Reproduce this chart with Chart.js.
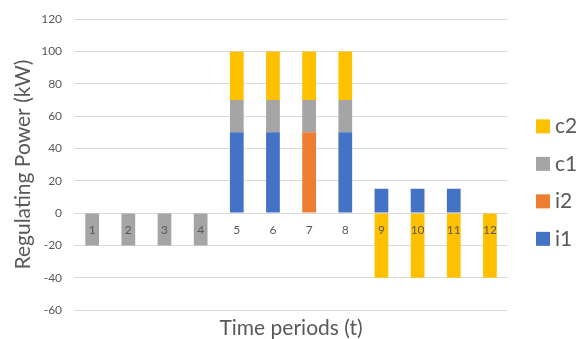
<!DOCTYPE html>
<html>
<head>
<meta charset="utf-8">
<script src="https://cdn.jsdelivr.net/npm/chart.js@4.4.1/dist/chart.umd.min.js"></script>
<style>
  html, body { margin: 0; padding: 0; background: #fff; }
  #wrap { width: 579px; height: 339px; position: relative; }
</style>
</head>
<body>
<div id="wrap"><canvas id="regChart"></canvas></div>
<script>
// data
const periods = ['1', '2', '3', '4', '5', '6', '7', '8', '9', '10', '11', '12'];
const i1 = [0, 0, 0, 0, 50, 50, 0, 50, 15, 15, 15, 0];
const i2 = [0, 0, 0, 0, 0, 0, 50, 0, 0, 0, 0, 0];
const c1 = [-20, -20, -20, -20, 20, 20, 20, 20, 0, 0, 0, 0];
const c2 = [0, 0, 0, 0, 30, 30, 30, 30, -40, -40, -40, -40];

const yMin = -60, yMax = 120, yStep = 20;

const textGrey = '#595959';
const font = "Lato, 'Open Sans', sans-serif";

function bar(label, data, color) {
    return {
        label: label,
        data: data,
        backgroundColor: color,
        barPercentage: 0.38,
        categoryPercentage: 1.0,
        borderWidth: 0
    };
}

// legend on the right, drawn next to the plot (c2 on top, like Excel)
const sideLegend = {
    id: 'sideLegend',
    afterDraw(chart) {
        const ctx = chart.ctx;
        const area = chart.chartArea;
        const sets = chart.data.datasets.slice().reverse();
        const x = area.right + 28;
        const step = 37.5;
        const mid = (area.top + area.bottom) / 2 + 18;
        const y0 = mid - step * (sets.length - 1) / 2;
        ctx.save();
        ctx.font = '21px ' + font;
        ctx.textBaseline = 'middle';
        sets.forEach((ds, k) => {
            const y = y0 + k * step;
            ctx.fillStyle = ds.backgroundColor;
            ctx.fillRect(x, y - 7, 14, 14);
            ctx.fillStyle = textGrey;
            ctx.fillText(ds.label, x + 19, y);
        });
        ctx.restore();
    }
};

new Chart(document.getElementById('regChart'), {
    type: 'bar',
    data: {
        labels: periods,
        datasets: [
            bar('i1', i1, '#4472C4'),
            bar('i2', i2, '#ED7D31'),
            bar('c1', c1, '#A5A5A5'),
            bar('c2', c2, '#FFC000')
        ]
    },
    plugins: [sideLegend],
    options: {
        responsive: true,
        maintainAspectRatio: false,
        animation: false,
        layout: { padding: { top: 5, right: 71, bottom: 0, left: 11 } },
        plugins: {
            tooltip: { enabled: false },
            legend: { display: false }
        },
        scales: {
            x: {
                stacked: true,
                grid: { display: false },
                border: { display: false },
                ticks: { display: false },
                title: {
                    display: true,
                    text: 'Time periods (t)',
                    color: textGrey,
                    font: { family: font, size: 21, lineHeight: 1.0 },
                    padding: { top: 0, bottom: 0 }
                }
            },
            // period numbers sit on the zero line, over the bars
            xLabels: {
                type: 'category',
                labels: periods,
                offset: true,
                position: { y: 0 },
                grid: { display: false, drawTicks: false },
                border: { display: false },
                ticks: {
                    z: 1,
                    color: textGrey,
                    font: { family: font, size: 12 },
                    padding: 10,
                    maxRotation: 0
                }
            },
            y: {
                stacked: true,
                min: yMin,
                max: yMax,
                grid: { color: '#D9D9D9', drawTicks: false },
                border: { display: false },
                ticks: {
                    stepSize: yStep,
                    color: textGrey,
                    font: { family: font, size: 12 },
                    padding: 12
                },
                title: {
                    display: true,
                    text: 'Regulating Power (kW)',
                    color: textGrey,
                    font: { family: font, size: 21 },
                    padding: { top: 0, bottom: -7 }
                }
            }
        }
    }
});
</script>
</body>
</html>
